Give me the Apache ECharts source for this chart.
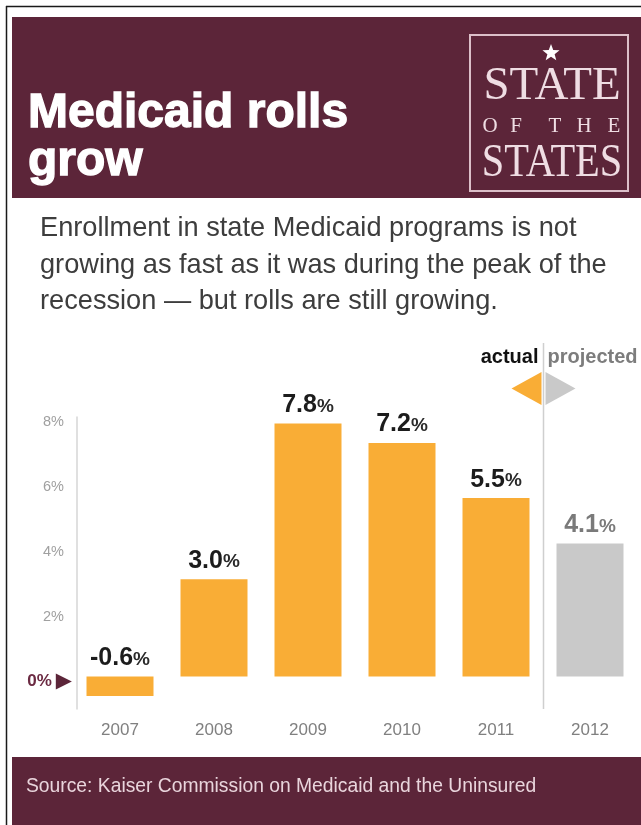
<!DOCTYPE html>
<html><head><meta charset="utf-8">
<script src="https://cdn.jsdelivr.net/npm/echarts@6/dist/echarts.min.js"></script>
<style>html,body{margin:0;padding:0;background:#fff}#c{width:641px;height:825px}</style>
</head><body><div id="c"></div>
<script>
// ---- data ----
const years = ['2007', '2008', '2009', '2010', '2011', '2012'];
const growth = [-0.6, 3.0, 7.8, 7.2, 5.5, 4.1];
const projected = [false, false, false, false, false, true];
const yTicks = [0, 2, 4, 6, 8];
const titleLines = ['Medicaid rolls', 'grow'];
const subtitleLines = [
  'Enrollment in state Medicaid programs is not',
  'growing as fast as it was during the peak of the',
  'recession \u2014 but rolls are still growing.'
];
const legendActual = 'actual';
const legendProjected = 'projected';
const sourceText = 'Source: Kaiser Commission on Medicaid and the Uninsured';

// ---- styles ----
const MAROON = '#5c2539';
const ORANGE = '#f9ad36';
const GRAY = '#c9c9c9';
const SANS = '"Liberation Sans", Arial, Helvetica, sans-serif';
const SERIF = '"Liberation Serif", "Times New Roman", serif';

const chart = echarts.init(document.getElementById('c'), null, {renderer: 'canvas'});

chart.setOption({
  animation: false,
  backgroundColor: '#fff',
  textStyle: {fontFamily: SANS},
  grid: {left: 73, right: 4, top: 417, bottom: 116, containLabel: false},
  xAxis: {
    type: 'category',
    data: years,
    axisLine: {show: false},
    axisTick: {show: false},
    axisLabel: {color: '#808080', fontSize: 17, margin: 13, fontFamily: SANS}
  },
  yAxis: {
    type: 'value',
    min: -1,
    max: 8,
    offset: -4,
    splitLine: {show: false},
    axisTick: {show: false},
    axisLine: {show: true, lineStyle: {color: '#d6d6d6', width: 1.5}},
    axisLabel: {
      customValues: yTicks,
      margin: 5,
      padding: [10, 0, 0, 0],
      formatter: function (v) {
        return v === 0 ? '{z|0%}{t|\u25B6}' : '{n|' + v + '%}';
      },
      rich: {
        n: {color: '#a0a0a0', fontSize: 14.5, padding: [0, 8, 0, 0], fontFamily: SANS},
        z: {color: '#6b2a42', fontSize: 17, fontWeight: 'bold', padding: [0, 4, 0, 0], fontFamily: SANS},
        t: {color: '#5c2539', fontSize: 21, fontFamily: '"DejaVu Sans", sans-serif'}
      }
    }
  },
  series: [{
    type: 'bar',
    barWidth: 67,
    data: growth.map(function (v, i) {
      const proj = projected[i];
      return {
        value: v,
        itemStyle: {color: proj ? GRAY : ORANGE},
        label: {
          show: true,
          position: 'top',
          distance: 6,
          formatter: '{n|' + v.toFixed(1) + '}{p|%}',
          rich: {
            n: {fontSize: 25, fontWeight: 'bold', color: proj ? '#7a7a7a' : '#1c1c1c', fontFamily: SANS},
            p: {fontSize: 19, fontWeight: 'bold', color: proj ? '#7a7a7a' : '#2a2a2a', fontFamily: SANS, padding: [3, 0, 0, 0]}
          }
        }
      };
    })
  }]
});

// divider between last actual and first projected category
const lastActual = projected.indexOf(true) - 1;
const pA = chart.convertToPixel({seriesIndex: 0}, [lastActual, 0]);
const pB = chart.convertToPixel({seriesIndex: 0}, [lastActual + 1, 0]);
const pBottom = chart.convertToPixel({seriesIndex: 0}, [0, -1]);
const dx = Math.round((pA[0] + pB[0]) / 2) + 0.5;

// star for the logo
function starPoints(cx, cy, R, r) {
  const pts = [];
  for (let k = 0; k < 10; k++) {
    const ang = -Math.PI / 2 + k * Math.PI / 5;
    const rad = k % 2 === 0 ? R : r;
    pts.push([cx + rad * Math.cos(ang), cy + rad * Math.sin(ang)]);
  }
  return pts;
}

const ofTheLetters = [['O', 490], ['F', 516], ['T', 555], ['H', 584], ['E', 614]];
const TITLE_FONT = 'bold 48px ' + SANS;

const g = [
  // frame
  {type: 'line', shape: {x1: 6.5, y1: 6, x2: 6.5, y2: 825}, style: {stroke: '#1a1a1a', lineWidth: 1.5}},
  {type: 'line', shape: {x1: 6, y1: 6.5, x2: 641, y2: 6.5}, style: {stroke: '#1a1a1a', lineWidth: 1.5}},
  // header
  {type: 'rect', shape: {x: 12, y: 17, width: 629, height: 181}, style: {fill: MAROON}},
  {type: 'text', style: {text: titleLines[0], x: 28, y: 114, fill: '#fff', stroke: '#fff', lineWidth: 1.3, font: TITLE_FONT, verticalAlign: 'middle'}},
  {type: 'text', style: {text: titleLines[1], x: 28, y: 162, fill: '#fff', stroke: '#fff', lineWidth: 1.3, font: TITLE_FONT, verticalAlign: 'middle'}},
  // logo
  {type: 'rect', shape: {x: 470, y: 35, width: 158, height: 156}, style: {fill: 'none', stroke: '#dcbfc9', lineWidth: 2}},
  {type: 'polygon', shape: {points: starPoints(551, 53, 9, 3.8)}, style: {fill: '#fff'}},
  {type: 'text', style: {text: 'STATE', x: 552, y: 87, fill: '#efdde3', font: '47px ' + SERIF, align: 'center', verticalAlign: 'middle'}},
  {type: 'text', x: 552, y: 164, scaleX: 0.86, style: {text: 'STATES', x: 0, y: 0, fill: '#efdde3', font: '47px ' + SERIF, align: 'center', verticalAlign: 'middle'}},
  // subtitle
  {type: 'text', style: {text: subtitleLines[0], x: 40, y: 229, fill: '#3d3d3d', font: '27.2px ' + SANS, verticalAlign: 'middle'}},
  {type: 'text', style: {text: subtitleLines[1], x: 40, y: 266, fill: '#3d3d3d', font: '27.2px ' + SANS, verticalAlign: 'middle'}},
  {type: 'text', style: {text: subtitleLines[2], x: 40, y: 302, fill: '#3d3d3d', font: '27.2px ' + SANS, verticalAlign: 'middle'}},
  // actual / projected divider and legend
  {type: 'line', shape: {x1: dx, y1: 343, x2: dx, y2: pBottom[1]}, style: {stroke: '#cfcfcf', lineWidth: 1.5}},
  {type: 'text', style: {text: legendActual, x: dx - 5, y: 357, fill: '#111', font: 'bold 20px ' + SANS, align: 'right', verticalAlign: 'middle'}},
  {type: 'text', style: {text: legendProjected, x: dx + 4, y: 357, fill: '#7d7d7d', font: 'bold 20px ' + SANS, align: 'left', verticalAlign: 'middle'}},
  {type: 'polygon', shape: {points: [[dx - 2, 372], [dx - 2, 405], [dx - 32, 388.5]]}, style: {fill: ORANGE}},
  {type: 'polygon', shape: {points: [[dx + 2, 372], [dx + 2, 405], [dx + 32, 388.5]]}, style: {fill: GRAY}},
  // footer
  {type: 'rect', shape: {x: 12, y: 757, width: 629, height: 68}, style: {fill: MAROON}},
  {type: 'text', style: {text: sourceText, x: 26, y: 787, fill: '#e9d5dc', font: '19.3px ' + SANS, verticalAlign: 'middle'}}
];
ofTheLetters.forEach(function (l) {
  g.push({type: 'text', style: {text: l[0], x: l[1], y: 126, fill: '#efdde3', font: '21px ' + SERIF, align: 'center', verticalAlign: 'middle'}});
});

chart.setOption({graphic: g});
</script>
</body></html>
